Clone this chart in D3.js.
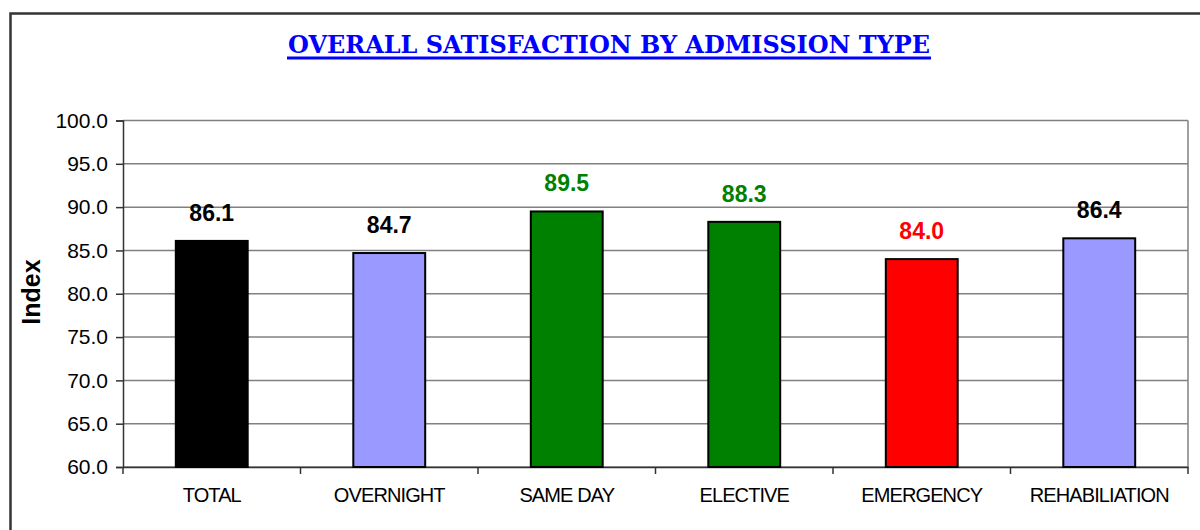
<!DOCTYPE html>
<html>
<head>
<meta charset="utf-8">
<script src="https://cdn.jsdelivr.net/npm/d3@7"></script>
<style>
	body { margin: 0; background: #fff; }
	svg { display: block; }
</style>
</head>
<body>
<div class="chart"></div>
<script>
var categories = ["TOTAL", "OVERNIGHT", "SAME DAY", "ELECTIVE", "EMERGENCY", "REHABILIATION"];
var values = [86.1, 84.7, 89.5, 88.3, 84.0, 86.4];
var barColors = ["#000000", "#9999ff", "#008000", "#008000", "#ff0000", "#9999ff"];
var labelColors = ["#000000", "#000000", "#008000", "#008000", "#ff0000", "#000000"];
var yTicks = [60, 65, 70, 75, 80, 85, 90, 95, 100];

var width = 1200, height = 530;
var plotLeft = 123, plotRight = 1188, plotTop = 120.5, plotBottom = 467;

var svg = d3.select(".chart").append("svg")
	.attr("width", width)
	.attr("height", height);

// outer frame
svg.append("rect")
	.attr("x", 10.5).attr("y", 13.5)
	.attr("width", 1200).attr("height", 600)
	.attr("fill", "none")
	.attr("stroke", "#333")
	.attr("stroke-width", 2.5);

var x = d3.scaleBand()
	.domain(categories)
	.range([plotLeft, plotRight])
	.paddingInner(0).paddingOuter(0);

var y = d3.scaleLinear()
	.domain([60, 100])
	.range([plotBottom, plotTop]);

// gridlines
svg.append("g")
	.selectAll("line")
	.data(yTicks)
	.enter()
	.append("line")
	.attr("x1", plotLeft).attr("x2", plotRight)
	.attr("y1", function(d){ return y(d); })
	.attr("y2", function(d){ return y(d); })
	.attr("stroke", "#808080")
	.attr("stroke-width", 1.5);

// right border of plot
svg.append("line")
	.attr("x1", plotRight).attr("x2", plotRight)
	.attr("y1", plotTop).attr("y2", plotBottom)
	.attr("stroke", "#808080")
	.attr("stroke-width", 1.5);

// y axis
var yAxis = d3.axisLeft(y)
	.tickValues(yTicks)
	.tickSize(7)
	.tickPadding(8)
	.tickFormat(d3.format(".1f"));

var gy = svg.append("g")
	.attr("transform", "translate(" + plotLeft + ",0)")
	.call(yAxis);
gy.select(".domain").attr("stroke", "#333").attr("stroke-width", 1.5);
gy.selectAll(".tick line").attr("stroke", "#333").attr("stroke-width", 1.5);
gy.selectAll("text")
	.attr("font-family", "Arial, 'Liberation Sans', sans-serif")
	.attr("font-size", "21px")
	.attr("fill", "#000");

// x axis
var xAxis = d3.axisBottom(x)
	.tickSize(0)
	.tickPadding(21);

var gx = svg.append("g")
	.attr("transform", "translate(0," + plotBottom + ")")
	.call(xAxis);
gx.select(".domain").attr("stroke", "#333").attr("stroke-width", 1.5);
gx.selectAll("text")
	.attr("font-family", "Arial, 'Liberation Sans', sans-serif")
	.attr("font-size", "20px")
	.attr("letter-spacing", "-0.9px")
	.attr("fill", "#000");

// category separator ticks
svg.append("g")
	.selectAll("line")
	.data(categories.concat(["_end"]))
	.enter()
	.append("line")
	.attr("x1", function(d, i){ return i < categories.length ? x(d) : plotRight; })
	.attr("x2", function(d, i){ return i < categories.length ? x(d) : plotRight; })
	.attr("y1", plotBottom).attr("y2", plotBottom + 7)
	.attr("stroke", "#333")
	.attr("stroke-width", 1.5);

// bars
var barW = x.bandwidth() * 0.405;
svg.append("g")
	.selectAll("rect")
	.data(values)
	.enter()
	.append("rect")
	.attr("x", function(d, i){ return x(categories[i]) + x.bandwidth() / 2 - barW / 2; })
	.attr("y", function(d){ return y(d); })
	.attr("width", barW)
	.attr("height", function(d){ return y(60) - y(d); })
	.attr("fill", function(d, i){ return barColors[i]; })
	.attr("stroke", "#000")
	.attr("stroke-width", 2);

// value labels
svg.append("g")
	.selectAll("text")
	.data(values)
	.enter()
	.append("text")
	.attr("x", function(d, i){ return x(categories[i]) + x.bandwidth() / 2; })
	.attr("y", function(d){ return y(d) - 20; })
	.attr("text-anchor", "middle")
	.attr("font-family", "Arial, 'Liberation Sans', sans-serif")
	.attr("font-weight", "bold")
	.attr("font-size", "23px")
	.attr("fill", function(d, i){ return labelColors[i]; })
	.text(function(d){ return d3.format(".1f")(d); });

// y label
svg.append("text")
	.attr("transform", "translate(40,292) rotate(-90)")
	.attr("text-anchor", "middle")
	.attr("font-family", "Arial, 'Liberation Sans', sans-serif")
	.attr("font-weight", "bold")
	.attr("font-size", "25px")
	.attr("fill", "#000")
	.text("Index");

// title
svg.append("text")
	.attr("x", 609)
	.attr("y", 53)
	.attr("text-anchor", "middle")
	.attr("font-family", "'DejaVu Serif', serif")
	.attr("font-weight", "bold")
	.attr("font-size", "24px")
	.attr("fill", "#0000ff")
	.attr("textLength", 642)
	.attr("lengthAdjust", "spacingAndGlyphs")
	.text("OVERALL SATISFACTION BY ADMISSION TYPE");

svg.append("line")
	.attr("x1", 287).attr("x2", 931)
	.attr("y1", 58).attr("y2", 58)
	.attr("stroke", "#0000ff")
	.attr("stroke-width", 3);
</script>
</body>
</html>
